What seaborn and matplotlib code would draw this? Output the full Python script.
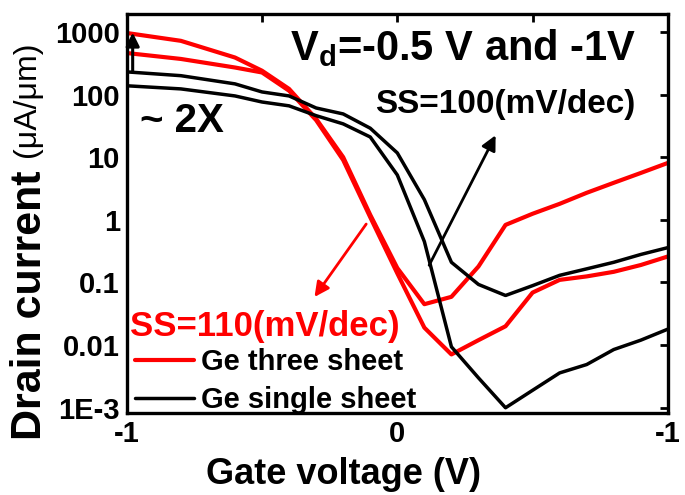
import numpy as np
import pandas as pd
import matplotlib
matplotlib.use("Agg")
from matplotlib import pyplot as plt
from matplotlib.ticker import FixedLocator, LogLocator, NullFormatter
import seaborn as sns

# gate voltage points (V)
vg = [-1, -0.8, -0.6, -0.5, -0.4, -0.3, -0.2, -0.1, 0, 0.1, 0.2, 0.3, 0.4, 0.5, 0.6, 0.7, 0.8, 0.9, 1]

# drain current (uA/um)
three_vd1 = [960, 720, 390, 240, 123, 41, 10, 1.2, 0.17, 0.045, 0.059, 0.18, 0.83, 1.25, 1.8, 2.7, 3.9, 5.6, 8.1]
three_vd05 = [460, 370, 270, 225, 115, 39, 9.0, 1.1, 0.14, 0.019, 0.0071, 0.012, 0.020, 0.069, 0.11, 0.125, 0.148, 0.19, 0.26]
single_vd1 = [230, 200, 148, 110, 95, 61, 49, 29, 11.7, 2.1, 0.21, 0.093, 0.062, 0.089, 0.13, 0.165, 0.21, 0.28, 0.36]
single_vd05 = [138, 123, 95, 76, 66, 46, 34, 21, 5.2, 0.45, 0.0094, 0.003, 0.001, 0.0019, 0.0036, 0.0049, 0.0085, 0.012, 0.018]

devices = ["Ge three sheet", "Ge single sheet"]
ytick_vals = [1e-3, 1e-2, 1e-1, 1, 10, 100, 1000]
ytick_labels = ["1E-3", "0.01", "0.1", "1", "10", "100", "1000"]
xtick_vals = [-1, -0.5, 0, 0.5, 1]
xtick_labels = ["-1", "", "0", "", "-1"]

frames = []
for dev, vd, cur in [(devices[0], -1, three_vd1), (devices[0], -0.5, three_vd05),
                     (devices[1], -1, single_vd1), (devices[1], -0.5, single_vd05)]:
    frames.append(pd.DataFrame({"Vg": vg, "Id": cur, "device": dev, "Vd": vd}))
df = pd.concat(frames, ignore_index=True)

sns.set_style("white")
plt.rcParams["font.family"] = ["Liberation Sans", "DejaVu Sans"]
plt.rcParams["font.weight"] = "bold"
plt.rcParams["mathtext.fontset"] = "custom"
plt.rcParams["mathtext.bf"] = "Liberation Sans:bold"
plt.rcParams["mathtext.rm"] = "Liberation Sans:bold"
for key in ["text.color", "axes.labelcolor", "xtick.color", "ytick.color", "axes.edgecolor"]:
    plt.rcParams[key] = "black"

fig = plt.figure(figsize=(6.85, 4.95), dpi=100)
ax = fig.add_axes([0.185, 0.166, 0.79, 0.806])

palette = {"Ge three sheet": "#ff0000", "Ge single sheet": "#000000"}
sns.lineplot(data=df, x="Vg", y="Id", hue="device", hue_order=devices, units="Vd",
             estimator=None, palette=palette, lw=3.0, ax=ax, sort=False)
for line in ax.get_lines():
    if line.get_color() in ("#000000", "black"):
        line.set_linewidth(2.5)

ax.set_yscale("log")
ax.set_xlim(-1, 1)
ax.set_ylim(8.3e-4, 1940)
ax.yaxis.set_major_locator(FixedLocator(ytick_vals))
ax.set_yticklabels(ytick_labels)
ax.yaxis.set_minor_locator(LogLocator(base=10, subs=np.arange(2, 10)))
ax.yaxis.set_minor_formatter(NullFormatter())
ax.set_xticks(xtick_vals)
ax.set_xticklabels(xtick_labels)

for s in ax.spines.values():
    s.set_linewidth(2.4)
    s.set_color("black")
ax.tick_params(which="major", direction="in", length=6, width=2, top=True, right=True,
               labelsize=21, pad=5, colors="black")
ax.tick_params(which="minor", direction="in", length=3, width=1.5, left=True, right=True,
               colors="black")
ax.set_xlabel("Gate voltage (V)", fontsize=26, fontweight="bold")
ax.xaxis.set_label_coords(0.40, -0.11)
ax.set_ylabel("")

fig.text(0.044, 0.111, "Drain current", rotation=90, fontsize=31, fontweight="bold",
         ha="center", va="bottom")
fig.text(0.040, 0.683, "(\u03bcA/\u03bcm)", rotation=90, fontsize=23, fontweight="normal",
         ha="center", va="bottom")

ax.text(-0.397, 556, r"V$_\mathbf{d}$=-0.5 V and -1V", fontsize=30, fontweight="bold",
        ha="left", va="center")
ax.text(-0.083, 69, "SS=100(mV/dec)", fontsize=24, fontweight="bold", ha="left", va="center")
ax.text(-0.952, 38, "~ 2X", fontsize=29, fontweight="bold", ha="left", va="center")
ax.text(-0.989, 0.02, "SS=110(mV/dec)", fontsize=25, fontweight="bold", color="#ff0000",
        ha="left", va="center")

ax.annotate("", xy=(0.368, 24.5), xytext=(0.113, 0.172),
            arrowprops=dict(arrowstyle="-|>", color="black", lw=2, mutation_scale=22))
ax.annotate("", xy=(-0.312, 0.054), xytext=(-0.109, 0.93),
            arrowprops=dict(arrowstyle="-|>", color="#ff0000", lw=2, mutation_scale=22))
ax.annotate("", xy=(-0.978, 1080), xytext=(-0.978, 205),
            arrowprops=dict(arrowstyle="-|>", color="black", lw=2.2, mutation_scale=20))

ax.legend(loc="lower left", bbox_to_anchor=(0.0, -0.025), frameon=False, fontsize=21,
          handlelength=2.0, handletextpad=0.25, labelspacing=0.35, borderaxespad=0.1,
          borderpad=0.2)

fig.savefig("out.png", dpi=100)
